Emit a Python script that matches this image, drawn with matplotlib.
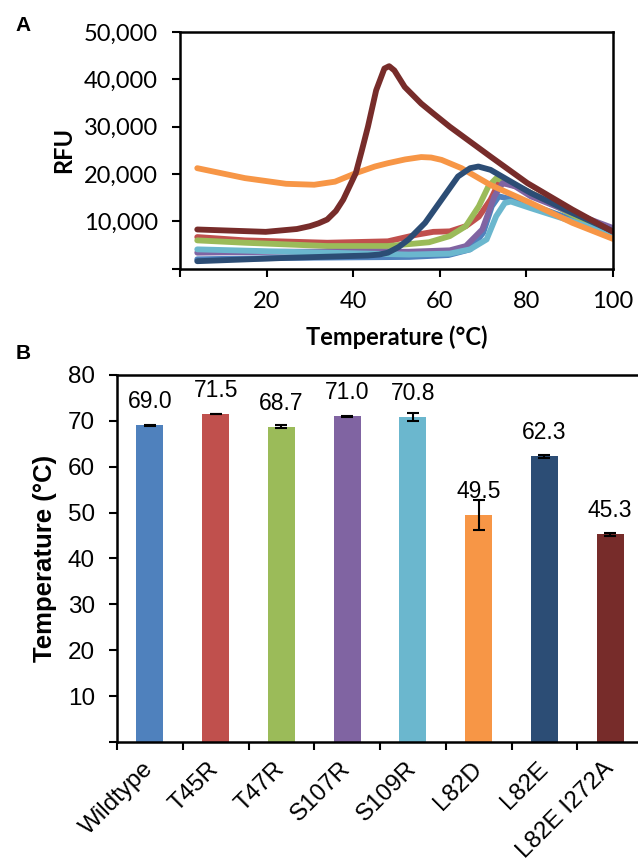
import matplotlib
matplotlib.use('Agg')
import matplotlib.pyplot as plt
from matplotlib.ticker import FuncFormatter

# ---- panel A: melt curves (temperature in C, RFU) ----
t_wt = [4, 25, 53, 62, 67, 70, 72, 73.6, 75.5, 81, 90.6, 100]
rfu_wt = [2000, 2300, 2500, 2900, 4100, 7600, 13200, 15300, 14900, 13500, 10400, 7600]

t_t45r = [4, 15, 34, 48, 54.7, 58.5, 62.3, 66, 69, 71.7, 73.6, 76, 81, 90.6, 100]
rfu_t45r = [6700, 6000, 5500, 5800, 7200, 7800, 7900, 9000, 11000, 14600, 18100, 18000, 16000, 11800, 8300]

t_t47r = [4, 15, 34, 48, 57.5, 62.3, 66, 69, 71.2, 73, 76.4, 81, 90.6, 100]
rfu_t47r = [6000, 5500, 4800, 4800, 5600, 6900, 9000, 13200, 17400, 19100, 18100, 16000, 11400, 7600]

t_s107r = [4, 24.5, 52.8, 62.3, 66, 69.8, 72.6, 74.5, 77.4, 81, 90.6, 100]
rfu_s107r = [3400, 3600, 3600, 3900, 4800, 8300, 15300, 18100, 17400, 15300, 11800, 8600]

t_s109r = [4, 24.5, 52.8, 62.3, 67, 70.8, 73, 75, 76.4, 81, 90.6, 100]
rfu_s109r = [4100, 3600, 3000, 3200, 4100, 6200, 11100, 13900, 14200, 12800, 10000, 7200]

t_l82d = [4, 15, 24.5, 31, 35.8, 40.6, 45, 48, 52, 55.7, 58, 60.4, 65, 71.7, 81, 90.6, 100]
rfu_l82d = [21250, 19150, 17950, 17750, 18400, 20200, 21600, 22300, 23100, 23600, 23500, 23000,
            21250, 17700, 13900, 9700, 6300]

t_l82e = [4, 24.5, 43.4, 46, 48, 50.5, 52.8, 56.6, 60.4, 64.2, 67, 68.9, 71.7, 76.4, 81, 90.6, 100]
rfu_l82e = [1600, 2300, 2800, 3000, 3400, 4600, 6200, 9700, 14600, 19500, 21250, 21600, 20900,
            18400, 16000, 11800, 7900]

t_dbl = [4, 19.8, 27, 30, 32, 34, 36, 37.7, 40.6, 42, 43.4, 45.3, 47.2, 48.3, 49.5, 51.9, 55.7,
         58.5, 62.3, 71.7, 80.2, 90.6, 100]
rfu_dbl = [8300, 7800, 8400, 9000, 9600, 10400, 12200, 14600, 20200, 25000, 30000, 37700, 42300,
           42800, 41900, 38400, 34900, 32800, 30000, 23700, 18100, 12500, 7800]

# ---- panel B: melting temperatures ----
variants = ['Wildtype', 'T45R', 'T47R', 'S107R', 'S109R', 'L82D', 'L82E', 'L82E I272A']
tm = [69.0, 71.5, 68.7, 71.0, 70.8, 49.5, 62.3, 45.3]
tm_err = [0.1, 0.1, 0.3, 0.15, 0.9, 3.3, 0.3, 0.3]

colors = ['#4F81BD', '#C0504D', '#9BBB59', '#8064A2', '#6BB7CE', '#F79646', '#2C4D75', '#772C2A']

fig = plt.figure(figsize=(6.38, 8.67), dpi=100)

# panel A
ax1 = fig.add_axes([0.282, 0.690, 0.679, 0.273])
curves = [(t_wt, rfu_wt), (t_t45r, rfu_t45r), (t_t47r, rfu_t47r), (t_s107r, rfu_s107r),
          (t_s109r, rfu_s109r), (t_l82d, rfu_l82d), (t_l82e, rfu_l82e), (t_dbl, rfu_dbl)]
for (t, r), c in zip(curves, colors):
    ax1.plot(t, r, color=c, lw=4.2, solid_capstyle='round', solid_joinstyle='round')
ax1.set_xlim(0, 100)
ax1.set_ylim(0, 50000)
ax1.set_xticks([0, 20, 40, 60, 80, 100])
ax1.set_yticks([0, 10000, 20000, 30000, 40000, 50000])
ax1.xaxis.set_major_formatter(FuncFormatter(lambda v, p: '' if v == 0 else '%d' % v))
ax1.yaxis.set_major_formatter(FuncFormatter(lambda v, p: '' if v == 0 else '{:,.0f}'.format(v)))
ax1.tick_params(direction='out', length=6, width=1.5, labelsize=17, pad=10)
for lab in ax1.get_xticklabels() + ax1.get_yticklabels():
    lab.set_fontfamily('Lato')
for s in ax1.spines.values():
    s.set_linewidth(1.8)
ax1.set_xlabel('Temperature (°C)', fontfamily='Lato', fontweight='bold', fontsize=17, labelpad=10)
ax1.set_ylabel('RFU', fontfamily='Lato', fontweight='bold', fontsize=17, labelpad=6)

# panel B
ax2 = fig.add_axes([0.1834, 0.1442, 0.8246, 0.4233])
x = list(range(len(variants)))
ax2.bar(x, tm, width=0.41, color=colors, yerr=tm_err, capsize=4,
        error_kw=dict(elinewidth=1.5, capthick=1.5, ecolor='black'))
for xi, v in zip(x, tm):
    ax2.annotate('%.1f' % v, (xi, v), xytext=(0, 17), textcoords='offset points',
                 ha='center', va='center', fontsize=16.5, fontfamily='Liberation Sans')
ax2.set_xlim(-0.5, 7.5)
ax2.set_ylim(0, 80)
ax2.set_yticks(range(0, 81, 10))
ax2.yaxis.set_major_formatter(FuncFormatter(lambda v, p: '' if v == 0 else '%d' % v))
ax2.set_xticks([i - 0.5 for i in range(9)])
ax2.set_xticklabels([])
ax2.set_xticks(x, minor=True)
ax2.set_xticklabels(variants, minor=True, rotation=45, ha='right', va='center',
                    rotation_mode='anchor', fontsize=17.5, fontfamily='Liberation Sans')
ax2.tick_params(axis='x', which='minor', length=0, pad=17)
ax2.tick_params(which='major', direction='out', length=6, width=1.5, labelsize=17.5, pad=10)
for lab in ax2.get_yticklabels():
    lab.set_fontfamily('Liberation Sans')
for s in ax2.spines.values():
    s.set_linewidth(1.8)
ax2.spines['right'].set_visible(False)
ax2.set_ylabel('Temperature (°C)', fontfamily='Liberation Sans', fontweight='bold', fontsize=18.5,
               labelpad=8)

fig.text(0.036, 0.971, 'A', fontsize=15, fontweight='bold', fontfamily='Liberation Sans',
         ha='center', va='center')
fig.text(0.036, 0.592, 'B', fontsize=15, fontweight='bold', fontfamily='Liberation Sans',
         ha='center', va='center')

fig.savefig('out.png', dpi=100)
